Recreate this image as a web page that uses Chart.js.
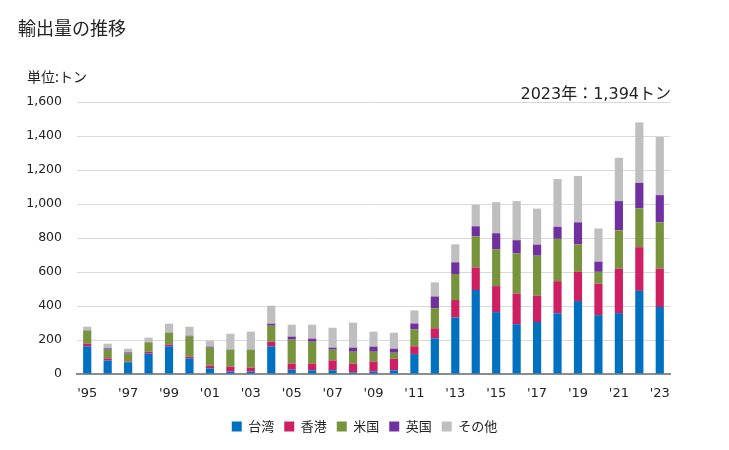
<!DOCTYPE html>
<html>
<head>
<meta charset="utf-8">
<script src="https://cdn.jsdelivr.net/npm/chart.js@4"></script>
<style>
  html, body { margin: 0; padding: 0; background: #fff; }
  #wrap { position: relative; width: 729px; height: 450px; }
  #c { position: absolute; left: 0; top: 0; }
  .txt { position: absolute; font-family: 'DejaVu Sans', 'Noto Sans CJK JP', sans-serif; color: #222; white-space: nowrap; }
  #title { left: 18px; top: 14px; font-size: 18px; font-family: 'Noto Sans CJK JP', sans-serif; }
  #unit { left: 27px; top: 66px; font-size: 14px; font-family: 'Noto Sans CJK JP', sans-serif; }
  #note { right: 58px; top: 80px; font-size: 16px; font-family: 'DejaVu Sans', 'Noto Sans CJK JP', sans-serif; }
</style>
</head>
<body>
<div id="wrap">
  <canvas id="c" width="729" height="450"></canvas>
  <div class="txt" id="title">輸出量の推移</div>
  <div class="txt" id="unit">単位:トン</div>
  <div class="txt" id="note"></div>
</div>
<script>
const years = [1995,1996,1997,1998,1999,2000,2001,2002,2003,2004,2005,2006,2007,2008,2009,2010,2011,2012,2013,2014,2015,2016,2017,2018,2019,2020,2021,2022,2023];
const seriesNames = ['台湾','香港','米国','英国','その他'];
const taiwan   = [163, 80, 69,120,163, 92, 33, 14, 14,163, 25, 22, 22, 10, 14, 22,117,210,332,494,364,293,306,357,429,346,358,489,394];
const hongkong = [ 15, 12,  5, 11, 11, 10, 16, 29, 23, 27, 36, 39, 58, 51, 59, 68, 46, 59,103,133,153,181,154,189,172,186,261,257,225];
const usa      = [ 77, 51, 46, 55, 69,118,106,100,106, 94,141,129, 63, 70, 58, 35, 99,118,153,183,217,236,236,249,161, 69,226,229,273];
const uk       = [  2,  8,  7,  1,  1,  5,  6,  1,  1, 12, 18, 18, 12, 24, 30, 24, 35, 69, 69, 59, 94, 77, 65, 71,130, 60,172,149,160];
const others   = [ 21, 27, 22, 27, 52, 53, 35, 93,105,106, 70, 82,117,147, 88, 94, 77, 83,106,126,183,230,212,281,273,195,255,356,342];
const yTicks = [0,200,400,600,800,1000,1200,1400,1600];
const colors = ['#0070C0','#CE1F63','#77933C','#7030A0','#BFBFBF'];

const seriesData = [taiwan, hongkong, usa, uk, others];
const lastIdx = years.length - 1;
const lastTotal = seriesData.reduce((s, arr) => s + arr[lastIdx], 0);
document.getElementById('note').textContent = years[lastIdx] + '年：' + lastTotal.toLocaleString('en-US') + 'トン';

const FONT = "'DejaVu Sans', 'Noto Sans CJK JP', sans-serif";

new Chart(document.getElementById('c'), {
  type: 'bar',
  data: {
    labels: years.map(y => "'" + String(y).slice(2)),
    datasets: seriesNames.map((n, i) => ({
      label: n,
      data: seriesData[i],
      backgroundColor: colors[i],
      borderWidth: 0,
      barPercentage: 0.4,
      categoryPercentage: 1.0
    }))
  },
  options: {
    responsive: false,
    animation: false,
    layout: { padding: { left: 0, right: 0, top: 102, bottom: 7 } },
    plugins: {
      tooltip: { enabled: false },
      title: { display: false },
      legend: {
        position: 'bottom',
        labels: {
          boxWidth: 10, boxHeight: 10, padding: 10,
          color: '#222',
          font: { family: "'Noto Sans CJK JP', sans-serif", size: 13 }
        }
      }
    },
    scales: {
      x: {
        stacked: true,
        grid: { display: false },
        border: { display: true, color: '#8c8c8c', width: 2 },
        ticks: {
          autoSkip: false, maxRotation: 0, padding: 4,
          color: '#222', font: { family: FONT, size: 13 },
          callback: function(v, i) { return i % 2 === 0 ? this.getLabelForValue(v) : ''; }
        },
        afterFit: s => { s.height = 36; }
      },
      y: {
        stacked: true,
        min: 0, max: 1600,
        afterBuildTicks: s => { s.ticks = yTicks.map(v => ({ value: v })); },
        grid: { color: '#d9d9d9', lineWidth: 1, drawTicks: false },
        border: { display: false },
        ticks: {
          padding: 15, color: '#222', font: { family: FONT, size: 12.5 },
          callback: v => v.toLocaleString('en-US')
        },
        afterFit: s => { s.width = 77; }
      },
      yR: {
        position: 'right',
        display: true,
        min: 0, max: 1600,
        grid: { display: false, drawTicks: false },
        border: { display: false },
        ticks: { display: false },
        afterFit: s => { s.width = 59; }
      }
    }
  }
});
</script>
</body>
</html>
